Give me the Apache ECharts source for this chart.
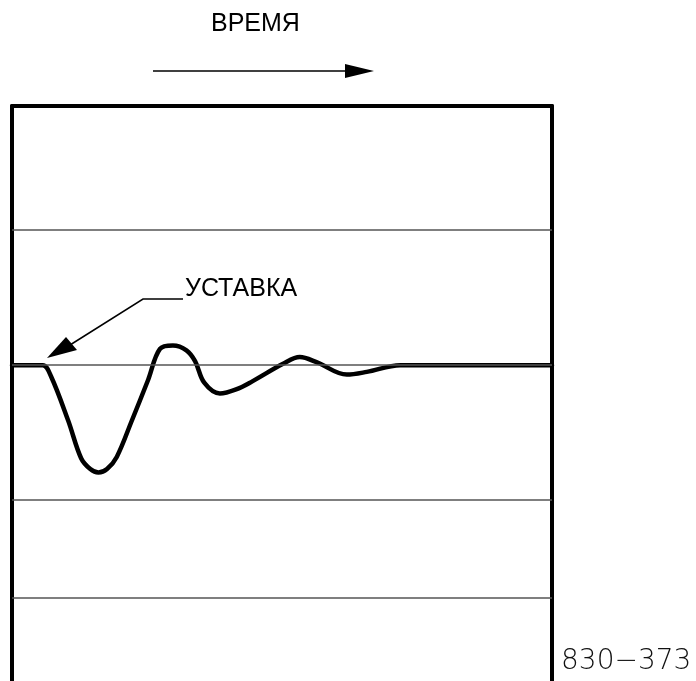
<!DOCTYPE html>
<html>
<head>
<meta charset="utf-8">
<script src="https://cdn.jsdelivr.net/npm/echarts@6/dist/echarts.min.js"></script>
<style>
html,body{margin:0;padding:0;background:#fff;}
#chart{width:696px;height:681px;}
</style>
</head>
<body>
<div id="chart"></div>
<script>
// time (0..100 across the chart) and deviation from setpoint
var timeValues = [0, 5.7, 7.2, 10.4, 12.8, 14.5, 16.0, 17.6, 19.4, 22.2, 25.2, 27.4, 29.8, 32.3, 33.9, 35.6, 38.5, 41.5, 44.5, 50.2, 53.3, 56.5, 62.0, 65.7, 71.9, 100];
var deviationValues = [0, 0, -0.8, -4.1, -6.9, -7.7, -7.95, -7.7, -6.8, -4.1, -1.1, 1.2, 1.45, 1.1, 0.3, -1.3, -2.1, -1.8, -1.2, 0.1, 0.6, 0.2, -0.7, -0.5, 0, 0];
var gridLevels = [10, 0, -10, -17.2];
var timeLabel = 'ВРЕМЯ';
var setpointLabel = 'УСТАВКА';
var figureId = '830\u2212373';

var curve = timeValues.map(function (t, i) { return [t, deviationValues[i]]; });

var chart = echarts.init(document.getElementById('chart'), null, {renderer: 'canvas'});
var axisLineStyle = {color: '#000', width: 4};
chart.setOption({
  animation: false,
  backgroundColor: '#fff',
  grid: {left: 12, right: 144, top: 106, bottom: 0, containLabel: false},
  xAxis: {
    type: 'value', min: 0, max: 100, position: 'top',
    axisLine: {show: true, onZero: false, lineStyle: axisLineStyle},
    axisTick: {show: false}, axisLabel: {show: false}, splitLine: {show: false}
  },
  yAxis: [{
    type: 'value', min: -23.4, max: 19.2, position: 'left',
    axisLine: {show: true, onZero: false, lineStyle: axisLineStyle},
    axisTick: {show: false}, axisLabel: {show: false}, splitLine: {show: false}
  }, {
    type: 'value', min: -23.4, max: 19.2, position: 'right',
    axisLine: {show: true, onZero: false, lineStyle: axisLineStyle},
    axisTick: {show: false}, axisLabel: {show: false}, splitLine: {show: false}
  }],
  series: [{
    type: 'line', data: [], z: 1, silent: true,
    markLine: {
      silent: true, symbol: ['none', 'none'], animation: false,
      label: {show: false},
      lineStyle: {color: '#555', width: 1.5, type: 'solid'},
      emphasis: {disabled: true},
      data: gridLevels.map(function (v) { return {yAxis: v}; })
    }
  }, {
    type: 'line', data: curve, z: 3, smooth: 0.35,
    showSymbol: false, symbol: 'none', silent: true,
    lineStyle: {color: '#000', width: 4.5, cap: 'round', join: 'round'}
  }],
  graphic: [
    {type: 'text', left: 211, top: 12, style: {text: timeLabel, font: '25px "Liberation Sans", Arial, sans-serif', fill: '#000'}},
    {type: 'line', shape: {x1: 153, y1: 71, x2: 350, y2: 71}, style: {stroke: '#000', lineWidth: 1.5}},
    {type: 'polygon', shape: {points: [[345, 64], [374, 71], [345, 78]]}, style: {fill: '#000'}},
    {type: 'text', left: 185, top: 277, style: {text: setpointLabel, font: '25px "Liberation Sans", Arial, sans-serif', fill: '#000'}},
    {type: 'polyline', shape: {points: [[183, 299], [143, 299], [70, 345]]}, style: {stroke: '#000', lineWidth: 1.5, fill: null}},
    {type: 'polygon', shape: {points: [[47, 358], [66, 337], [77, 350]]}, style: {fill: '#000'}},
    {type: 'text', left: 561, top: 648, style: {text: figureId, font: '200 28px "DejaVu Sans", sans-serif', fill: '#111'}}
  ]
});
</script>
</body>
</html>
